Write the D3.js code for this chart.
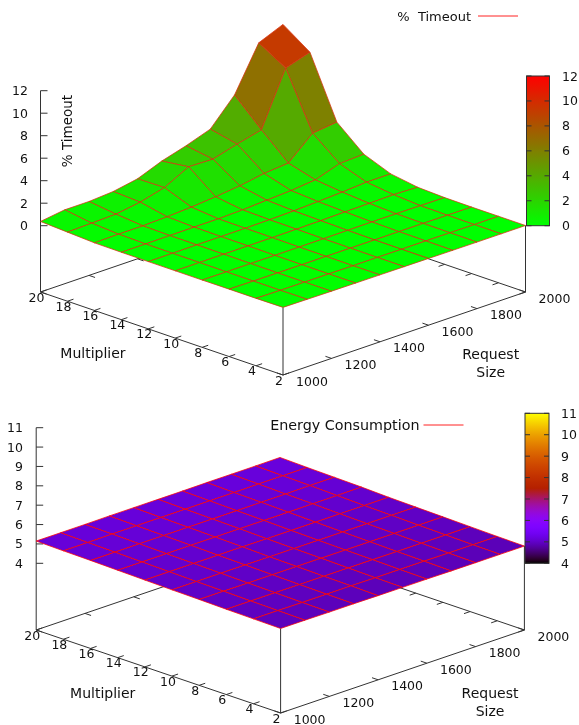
<!DOCTYPE html>
<html>
<head>
<meta charset="utf-8">
<script src="https://cdn.jsdelivr.net/npm/d3@7"></script>
<style>
body { margin: 0; background: #fff; }
svg { filter: blur(0.3px); }
text { font-family: "DejaVu Sans", sans-serif; fill: #111; }
</style>
</head>
<body>
<div id="chart"></div>
<script>
var sizes = [1000, 1100, 1200, 1300, 1400, 1500, 1600, 1700, 1800, 1900, 2000];
var multipliers = [2, 4, 6, 8, 10, 12, 14, 16, 18, 20];
var sizeTicks = [1000, 1200, 1400, 1600, 1800, 2000];
var multTicks = [2, 4, 6, 8, 10, 12, 14, 16, 18, 20];
var timeoutTicks = [0, 2, 4, 6, 8, 10, 12];
var energyTicks = [4, 5, 6, 7, 8, 9, 10, 11];

// one row per multiplier, one column per request size
var timeout = [
  [0.10, 0.08, 0.06, 0.05, 0.04, 0.03, 0.02, 0.01, 0.00, 0.00, 0.00],
  [0.08, 0.06, 0.05, 0.04, 0.03, 0.03, 0.02, 0.02, 0.01, 0.00, 0.00],
  [0.08, 0.06, 0.05, 0.04, 0.04, 0.04, 0.03, 0.03, 0.02, 0.01, 0.00],
  [0.07, 0.06, 0.06, 0.05, 0.05, 0.05, 0.06, 0.07, 0.06, 0.04, 0.02],
  [0.07, 0.07, 0.07, 0.07, 0.07, 0.08, 0.10, 0.14, 0.16, 0.20, 0.12],
  [0.07, 0.07, 0.08, 0.08, 0.08, 0.10, 0.15, 0.24, 0.34, 0.49, 0.49],
  [0.08, 0.08, 0.09, 0.10, 0.10, 0.16, 0.28, 0.40, 0.61, 1.32, 1.42],
  [0.10, 0.13, 0.13, 0.20, 0.32, 0.50, 0.74, 1.10, 1.28, 3.20, 3.45],
  [0.23, 0.29, 0.35, 0.68, 1.24, 2.35, 2.29, 2.89, 3.42, 8.17, 8.85],
  [0.36, 0.66, 0.66, 0.81, 1.20, 2.04, 2.66, 3.40, 5.70, 9.60, 10.50]
];

var energy = [
  [4.92, 4.92, 4.91, 4.91, 4.90, 4.90, 4.90, 4.89, 4.89, 4.89, 4.89],
  [4.94, 4.94, 4.93, 4.93, 4.93, 4.92, 4.92, 4.92, 4.91, 4.91, 4.91],
  [4.96, 4.96, 4.96, 4.95, 4.95, 4.95, 4.95, 4.94, 4.94, 4.94, 4.94],
  [4.99, 4.99, 4.98, 4.98, 4.98, 4.98, 4.97, 4.97, 4.97, 4.97, 4.97],
  [5.01, 5.01, 5.01, 5.01, 5.00, 5.00, 5.00, 5.00, 5.00, 5.00, 5.00],
  [5.04, 5.04, 5.04, 5.04, 5.04, 5.03, 5.03, 5.03, 5.03, 5.03, 5.03],
  [5.07, 5.07, 5.07, 5.07, 5.07, 5.07, 5.07, 5.07, 5.07, 5.07, 5.08],
  [5.10, 5.10, 5.10, 5.10, 5.10, 5.10, 5.10, 5.10, 5.10, 5.11, 5.11],
  [5.12, 5.12, 5.13, 5.13, 5.13, 5.13, 5.13, 5.13, 5.14, 5.14, 5.14],
  [5.15, 5.15, 5.15, 5.16, 5.16, 5.16, 5.16, 5.17, 5.17, 5.17, 5.18]
];

var svg = d3.select("#chart").append("svg")
    .attr("width", 579).attr("height", 725);

// green -> red
function timeoutColor(t) {
  return d3.rgb(255 * t, 255 * (1 - t), 0) + "";
}
// gnuplot default pm3d palette (rgbformulae 7,5,15)
function energyColor(t) {
  return d3.rgb(255 * Math.sqrt(t), 255 * t * t * t, 255 * Math.max(0, Math.sin(2 * Math.PI * t))) + "";
}

function line(g, x1, y1, x2, y2) {
  g.append("line").attr("x1", x1).attr("y1", y1).attr("x2", x2).attr("y2", y2)
    .attr("stroke", "#333").attr("stroke-width", 1);
}

function label(g, x, y, s, size, anchor) {
  return g.append("text").attr("x", x).attr("y", y).attr("dy", "0.36em")
    .attr("text-anchor", anchor || "middle").attr("font-size", size)
    .style("white-space", "pre").text(s);
}

function drawChart(o) {
  var g = svg.append("g");
  var zDomain = [o.zTicks[0], o.zTicks[o.zTicks.length - 1]];

  var sizeX = d3.scaleLinear().domain([1000, 2000]).range([0, o.sizeDx]),
      sizeY = d3.scaleLinear().domain([1000, 2000]).range([0, o.sizeDy]),
      multX = d3.scaleLinear().domain([2, 20]).range([0, o.multDx]),
      multY = d3.scaleLinear().domain([2, 20]).range([0, o.multDy]),
      zY = d3.scaleLinear().domain(zDomain).range([o.zBottom, o.zTop]),
      barY = d3.scaleLinear().domain(zDomain).range([o.barBottom, o.barTop]);

  // floor position on screen
  function px(size, mult) { return o.frontX + sizeX(size) - multX(mult); }
  function py(size, mult) { return o.frontY - sizeY(size) - multY(mult); }
  // surface height on screen
  function sy(size, mult, z) { return py(size, mult) - o.floorGap - (zY(zDomain[0]) - zY(z)); }

  // floor box
  line(g, px(1000, 2), py(1000, 2), px(2000, 2), py(2000, 2));
  line(g, px(1000, 2), py(1000, 2), px(1000, 20), py(1000, 20));
  line(g, px(2000, 20), py(2000, 20), px(2000, 2), py(2000, 2));
  line(g, px(2000, 20), py(2000, 20), px(1000, 20), py(1000, 20));

  // verticals run up to the surface
  var last = sizes.length - 1;
  line(g, px(1000, 20), py(1000, 20), px(1000, 20), o.zTop);
  line(g, px(1000, 2), py(1000, 2), px(1000, 2), sy(1000, 2, o.values[0][0]));
  line(g, px(2000, 2), py(2000, 2), px(2000, 2), sy(2000, 2, o.values[0][last]));

  // z ticks
  o.zTicks.forEach(function (t) {
    line(g, px(1000, 20), zY(t), px(1000, 20) + 7, zY(t));
    label(g, o.zLabelX, zY(t), t, 12.5, "end");
  });

  // multiplier ticks, front and mirrored on the back edge
  var tx = 0.025 * o.sizeDx, ty = 0.025 * o.sizeDy;
  multTicks.forEach(function (m) {
    line(g, px(1000, m), py(1000, m), px(1000, m) + tx, py(1000, m) - ty);
    line(g, px(2000, m), py(2000, m), px(2000, m) - tx, py(2000, m) + ty);
    label(g, px(1000, m) - 4, py(1000, m) + 5, m, 12.5);
  });
  var ux = 0.025 * o.multDx, uy = 0.025 * o.multDy;
  sizeTicks.forEach(function (s) {
    line(g, px(s, 2), py(s, 2), px(s, 2) - ux, py(s, 2) - uy);
    line(g, px(s, 20), py(s, 20), px(s, 20) + ux, py(s, 20) + uy);
    label(g, px(s, 2) + 29, py(s, 2) + 6, s, 12.5);
  });

  // axis titles
  label(g, o.multTitle[0], o.multTitle[1], "Multiplier", 14);
  label(g, o.sizeTitle[0], o.sizeTitle[1], "Request", 14);
  label(g, o.sizeTitle[0], o.sizeTitle[1] + 18, "Size", 14);

  // surface, back to front, colour from the mean of the four corners
  var cells = [];
  d3.range(multipliers.length - 1).forEach(function (j) {
    d3.range(sizes.length - 1).forEach(function (i) {
      cells.push({i: i, j: j});
    });
  });
  cells.sort(function (a, b) { return (b.i + b.j) - (a.i + a.j); });

  var toT = d3.scaleLinear().domain(zDomain).range([0, 1]);
  g.selectAll("path.cell").data(cells).enter().append("path")
    .attr("class", "cell")
    .attr("d", function (c) {
      var pts = [[c.j, c.i], [c.j, c.i + 1], [c.j + 1, c.i + 1], [c.j + 1, c.i]].map(function (p) {
        return [px(sizes[p[1]], multipliers[p[0]]), sy(sizes[p[1]], multipliers[p[0]], o.values[p[0]][p[1]])];
      });
      return "M" + pts.join("L") + "Z";
    })
    .attr("fill", function (c) {
      var v = o.values;
      return o.color(toT(d3.mean([v[c.j][c.i], v[c.j][c.i + 1], v[c.j + 1][c.i + 1], v[c.j + 1][c.i]])));
    })
    .attr("stroke", o.gridColor)
    .attr("stroke-width", 0.75)
    .attr("stroke-linejoin", "round");

  // colour box
  var grad = svg.append("defs").append("linearGradient").attr("id", o.id)
      .attr("x1", 0).attr("y1", 1).attr("x2", 0).attr("y2", 0);
  d3.range(0, 1.001, 0.02).forEach(function (t) {
    grad.append("stop").attr("offset", t).attr("stop-color", o.color(t));
  });
  g.append("rect").attr("x", o.barX).attr("y", o.barTop)
    .attr("width", o.barW).attr("height", o.barBottom - o.barTop)
    .attr("fill", "url(#" + o.id + ")").attr("stroke", "#333");
  o.zTicks.forEach(function (t) {
    line(g, o.barX, barY(t), o.barX + 5, barY(t));
    line(g, o.barX + o.barW - 5, barY(t), o.barX + o.barW, barY(t));
    label(g, o.barLabelX, barY(t), t, 12.5, "start");
  });

  // key
  label(g, o.keyX, o.keyY, o.keyText, o.keySize, "end");
  g.append("line").attr("x1", o.keyX + o.keyGap).attr("x2", o.keyX + o.keyGap + 40)
    .attr("y1", o.keyY).attr("y2", o.keyY).attr("stroke", "#f22");
}

drawChart({
  id: "bar1", values: timeout, zTicks: timeoutTicks, color: timeoutColor, gridColor: "#d83010",
  frontX: 283, frontY: 375, sizeDx: 242.5, sizeDy: 83, multDx: 242.5, multDy: 83,
  floorGap: 66.5, zBottom: 225.7, zTop: 90.7, zLabelX: 28,
  barX: 526.5, barW: 23, barTop: 76, barBottom: 225.7, barLabelX: 562,
  multTitle: [93, 353], sizeTitle: [490.7, 354],
  keyText: "%  Timeout", keyX: 471, keyY: 16, keyGap: 7, keySize: 13
});

drawChart({
  id: "bar2", values: energy, zTicks: energyTicks, color: energyColor, gridColor: "#f00",
  frontX: 280.6, frontY: 713, sizeDx: 243.8, sizeDy: 83, multDx: 244.4, multDy: 83,
  floorGap: 66.7, zBottom: 563.3, zTop: 427.7, zLabelX: 23,
  barX: 525, barW: 24, barTop: 413.3, barBottom: 563.3, barLabelX: 561,
  multTitle: [102.7, 692.7], sizeTitle: [490, 692.7],
  keyText: "Energy Consumption", keyX: 419.5, keyY: 425, keyGap: 4, keySize: 14.3
});

// rotated z title of the upper plot
svg.append("text").attr("transform", "translate(67,131) rotate(-90)")
  .attr("dy", "0.36em").attr("text-anchor", "middle").attr("font-size", 13.5).text("% Timeout");
</script>
</body>
</html>
